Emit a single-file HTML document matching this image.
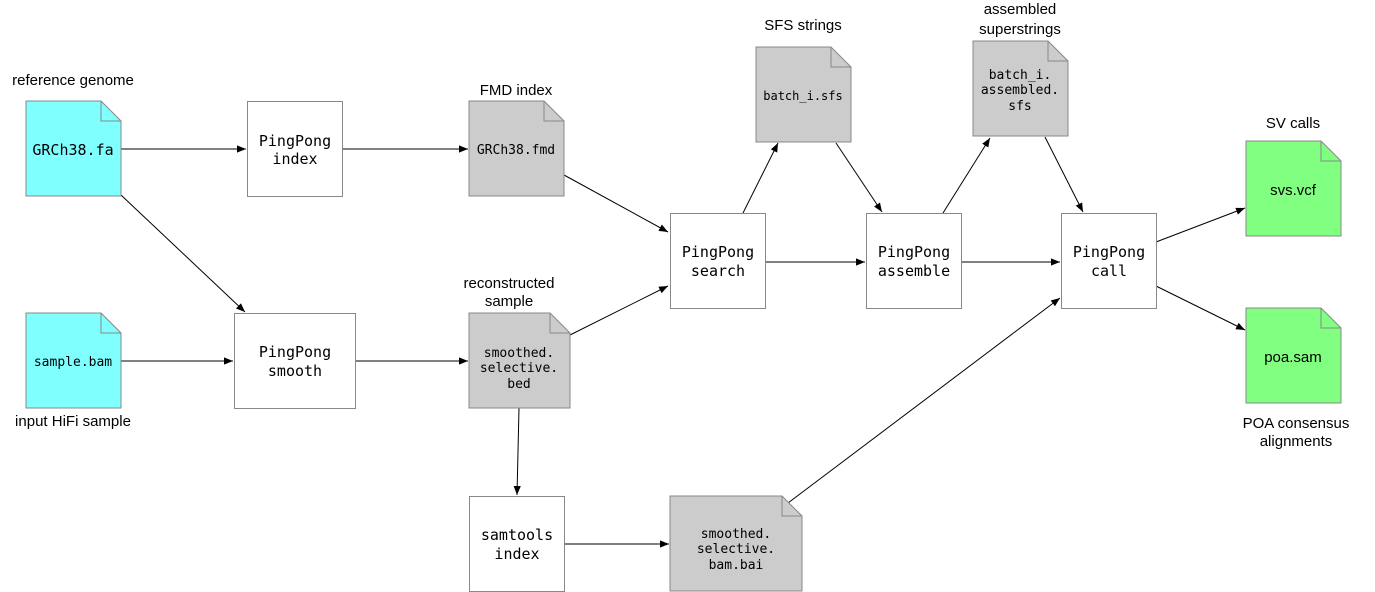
<!DOCTYPE html>
<html><head><meta charset="utf-8"><style>
html,body{margin:0;padding:0;background:#fff;}
svg{display:block;}
.m{font-family:"DejaVu Sans Mono","Liberation Mono",monospace;fill:#000;text-anchor:middle;}
.s{font-family:"Liberation Sans",sans-serif;font-size:15px;fill:#000;text-anchor:middle;}
.b{fill:#fff;stroke:#888;stroke-width:1;}
.e{stroke:#000;stroke-width:1;fill:none;marker-end:url(#a);}
.f{fill:none;stroke:#888;}
</style></head><body>
<svg width="1375" height="592" viewBox="0 0 1375 592" xmlns="http://www.w3.org/2000/svg">
<defs><marker id="a" viewBox="0 0 10 10" refX="10" refY="5" markerWidth="9" markerHeight="9" markerUnits="userSpaceOnUse" orient="auto"><path d="M0,1 L10,5 L0,9 Z" fill="#000"/></marker></defs>

<line class="e" x1="121" y1="149" x2="246" y2="149"/>
<line class="e" x1="342" y1="149" x2="468" y2="149"/>
<line class="e" x1="121" y1="195" x2="245" y2="312"/>
<line class="e" x1="121" y1="361" x2="233" y2="361"/>
<line class="e" x1="355" y1="361" x2="468" y2="361"/>
<line class="e" x1="564" y1="175" x2="668" y2="232"/>
<line class="e" x1="570" y1="335" x2="668" y2="286"/>
<line class="e" x1="519" y1="408" x2="517" y2="495"/>
<line class="e" x1="565" y1="544" x2="669" y2="544"/>
<line class="e" x1="788" y1="503" x2="1060" y2="298"/>
<line class="e" x1="765" y1="262" x2="865" y2="262"/>
<line class="e" x1="743" y1="213" x2="778" y2="143"/>
<line class="e" x1="836" y1="143" x2="882" y2="212"/>
<line class="e" x1="961" y1="262" x2="1060" y2="262"/>
<line class="e" x1="943" y1="213" x2="990" y2="138"/>
<line class="e" x1="1045" y1="137" x2="1083" y2="212"/>
<line class="e" x1="1156" y1="242" x2="1245" y2="208"/>
<line class="e" x1="1156" y1="286" x2="1245" y2="330"/>

<g stroke="#888" stroke-width="1">
<path d="M26,101 H101 L121,121 V196 H26 Z" fill="#80ffff"/><path class="f" d="M101,101 V121 H121"/>
<path d="M26,313 H101 L121,333 V408 H26 Z" fill="#80ffff"/><path class="f" d="M101,313 V333 H121"/>
<path d="M469,101 H544 L564,121 V196 H469 Z" fill="#cccccc"/><path class="f" d="M544,101 V121 H564"/>
<path d="M469,313 H550 L570,333 V408 H469 Z" fill="#cccccc"/><path class="f" d="M550,313 V333 H570"/>
<path d="M670,496 H782 L802,516 V591 H670 Z" fill="#cccccc"/><path class="f" d="M782,496 V516 H802"/>
<path d="M756,47 H831 L851,67 V142 H756 Z" fill="#cccccc"/><path class="f" d="M831,47 V67 H851"/>
<path d="M973,41 H1048 L1068,61 V136 H973 Z" fill="#cccccc"/><path class="f" d="M1048,41 V61 H1068"/>
<path d="M1246,141 H1321 L1341,161 V236 H1246 Z" fill="#80ff80"/><path class="f" d="M1321,141 V161 H1341"/>
<path d="M1246,308 H1321 L1341,328 V403 H1246 Z" fill="#80ff80"/><path class="f" d="M1321,308 V328 H1341"/>
</g>

<rect class="b" x="247.5" y="101.5" width="95" height="95"/>
<rect class="b" x="234.5" y="313.5" width="121" height="95"/>
<rect class="b" x="469.5" y="496.5" width="95" height="95"/>
<rect class="b" x="670.5" y="213.5" width="95" height="95"/>
<rect class="b" x="866.5" y="213.5" width="95" height="95"/>
<rect class="b" x="1061.5" y="213.5" width="95" height="95"/>

<text class="m" x="73" y="155" font-size="15">GRCh38.fa</text>
<text class="m" x="73" y="366" font-size="13">sample.bam</text>
<text class="m" x="516" y="154" font-size="13">GRCh38.fmd</text>
<text class="m" font-size="13"><tspan x="519" y="357">smoothed.</tspan><tspan x="519" y="372">selective.</tspan><tspan x="519" y="388">bed</tspan></text>
<text class="m" font-size="13"><tspan x="736" y="538">smoothed.</tspan><tspan x="736" y="553">selective.</tspan><tspan x="736" y="569">bam.bai</tspan></text>
<text class="m" x="803" y="100" font-size="12">batch_i.sfs</text>
<text class="m" font-size="13"><tspan x="1020" y="79">batch_i.</tspan><tspan x="1020" y="94">assembled.</tspan><tspan x="1020" y="110">sfs</tspan></text>
<text class="s" x="1293" y="195" font-size="15">svs.vcf</text>
<text class="s" x="1293" y="362" font-size="15">poa.sam</text>

<text class="m" font-size="15"><tspan x="295" y="146">PingPong</tspan><tspan x="295" y="164">index</tspan></text>
<text class="m" font-size="15"><tspan x="295" y="357">PingPong</tspan><tspan x="295" y="376">smooth</tspan></text>
<text class="m" font-size="15"><tspan x="517" y="540">samtools</tspan><tspan x="517" y="559">index</tspan></text>
<text class="m" font-size="15"><tspan x="718" y="257">PingPong</tspan><tspan x="718" y="276">search</tspan></text>
<text class="m" font-size="15"><tspan x="914" y="257">PingPong</tspan><tspan x="914" y="276">assemble</tspan></text>
<text class="m" font-size="15"><tspan x="1109" y="257">PingPong</tspan><tspan x="1109" y="276">call</tspan></text>

<text class="s" x="73" y="85">reference genome</text>
<text class="s" x="73" y="426">input HiFi sample</text>
<text class="s" x="516" y="95">FMD index</text>
<text class="s"><tspan x="509" y="288">reconstructed</tspan><tspan x="509" y="306">sample</tspan></text>
<text class="s" x="803" y="30">SFS strings</text>
<text class="s"><tspan x="1020" y="14">assembled</tspan><tspan x="1020" y="34">superstrings</tspan></text>
<text class="s" x="1293" y="128">SV calls</text>
<text class="s"><tspan x="1296" y="428">POA consensus</tspan><tspan x="1296" y="446">alignments</tspan></text>
</svg>
</body></html>
